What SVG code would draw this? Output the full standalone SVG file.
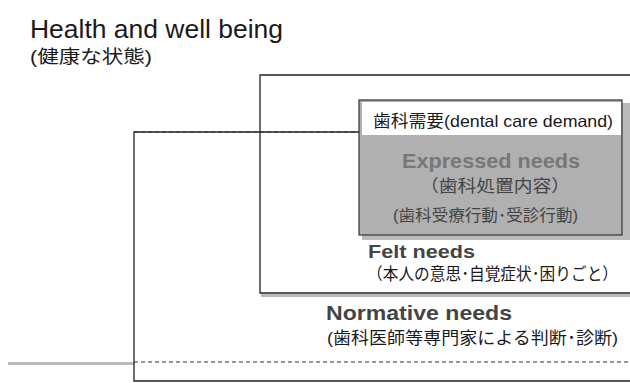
<svg xmlns="http://www.w3.org/2000/svg" width="630" height="383" viewBox="0 0 630 383">
<style>
.t{font-family:"Liberation Sans","Noto Sans CJK JP",sans-serif;fill:#1a1a1a}
.b{font-weight:bold}
.g4{fill:#444}
.g7{fill:#777}
.box{fill:none;stroke:#222;stroke-width:1.3}
.dash{fill:none;stroke:#333;stroke-width:1.2;stroke-dasharray:4 3}
.sh{fill:#bbb}
</style>
<rect width="630" height="383" fill="#fff"/>
<g id="title">
<text class="t" x="30" y="38" font-size="26" textLength="253" lengthAdjust="spacingAndGlyphs">Health and well being</text>
<text class="t" x="30" y="63" font-size="18.5" textLength="122" lengthAdjust="spacingAndGlyphs">(健康な状態)</text>
</g>
<g id="normative">
<rect class="sh" x="8" y="362" width="126" height="3"/>
<path class="box" d="M630,132 H134 V381 H630"/>
<text class="t b g4" x="326" y="320" font-size="20.5" textLength="186" lengthAdjust="spacingAndGlyphs">Normative needs</text>
<text class="t" x="327" y="344" font-size="16.5" textLength="291" lengthAdjust="spacingAndGlyphs">(歯科医師等専門家による判断･診断)</text>
</g>
<g id="felt">
<rect class="sh" x="261" y="294" width="369" height="3"/>
<path class="box" d="M630,75 H260 V293 H630"/>
<text class="t b g4" x="368" y="258" font-size="17.5" textLength="107" lengthAdjust="spacingAndGlyphs">Felt needs</text>
<text class="t" x="367" y="280" font-size="16.5" textLength="251" lengthAdjust="spacingAndGlyphs">（本人の意思･自覚症状･困りごと）</text>
</g>
<g id="expressed">
<rect class="sh" x="362" y="103" width="268" height="137"/>
<rect x="359" y="100" width="263" height="135" fill="#b0b0b0" stroke="#333" stroke-width="1.2"/>
<rect x="362" y="102" width="259" height="33" fill="#fff"/>
<text class="t" x="373" y="127" font-size="16.5" textLength="240" lengthAdjust="spacingAndGlyphs">歯科需要(dental care demand)</text>
<text class="t b g7" x="402" y="168" font-size="21" textLength="178" lengthAdjust="spacingAndGlyphs">Expressed needs</text>
<text class="t g4" x="420" y="192" font-size="17" textLength="150" lengthAdjust="spacingAndGlyphs">（歯科処置内容）</text>
<text class="t g4" x="393" y="221" font-size="16" textLength="185" lengthAdjust="spacingAndGlyphs">(歯科受療行動･受診行動)</text>
</g>
<g id="connectors">
<path class="dash" d="M134,132 H359"/>
<path class="dash" d="M134,362 H630"/>
</g>
</svg>
